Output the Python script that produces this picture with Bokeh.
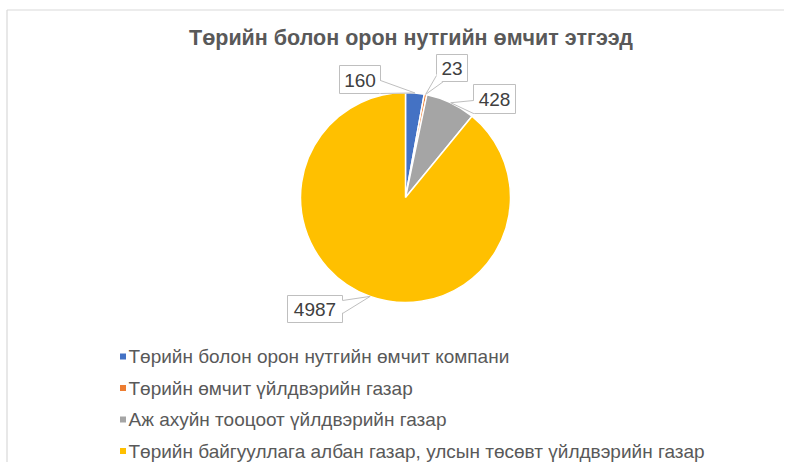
import numpy as np
from bokeh.plotting import figure
from bokeh.models import Range1d
from bokeh.embed import file_html
from bokeh.resources import INLINE
from bokeh.core.properties import value

# ---------------- data ----------------
title = "Төрийн болон орон нутгийн өмчит этгээд"
categories = [
    "Төрийн болон орон нутгийн өмчит компани",
    "Төрийн өмчит үйлдвэрийн газар",
    "Аж ахуйн тооцоот үйлдвэрийн газар",
    "Төрийн байгууллага албан газар, улсын төсөвт үйлдвэрийн газар",
]
values = [160, 23, 428, 4987]
colors = ["#4472C4", "#ED7D31", "#A5A5A5", "#FFC000"]

# ---------------- layout (picture pixel coordinates) ----------------
W, H = 784, 462
def X(px):
    return px
def Y(py):
    return H - py

CX, CY, R = 405, 197, 105
FONT = value("Liberation Sans")

p = figure(width=W, height=H, x_range=Range1d(0, W), y_range=Range1d(0, H),
           output_backend="svg", toolbar_location=None,
           x_axis_location=None, y_axis_location=None,
           min_border=0, outline_line_color=None)
p.grid.visible = False
p.background_fill_color = "white"
p.border_fill_color = "white"

# chart area border (left and top only visible)
p.segment(x0=[X(6.5), X(6.5)], y0=[Y(9.5), Y(9.5)], x1=[X(792), X(6.5)], y1=[Y(9.5), Y(470)],
          line_color="#d9d9d9", line_width=1.2)

# title
p.text(x=[X(410.5)], y=[Y(37)], text=[title], text_font=FONT, text_font_size="21.5px",
       text_font_style="bold", text_color="#595959", text_align="center", text_baseline="middle")

# pie
vals = np.array(values, dtype=float)
total = vals.sum()
cum = np.concatenate([[0], np.cumsum(vals)])
start = np.pi / 2 - 2 * np.pi * cum[:-1] / total
end = np.pi / 2 - 2 * np.pi * cum[1:] / total
p.wedge(x=X(CX), y=Y(CY), radius=R, start_angle=start, end_angle=end, direction="clock",
        fill_color=colors, line_color="white", line_width=1.5)

# data label callouts: box (left, top, width, height) and pointer base points
mid = (start + end) / 2
tips_x = X(CX) + R * np.cos(mid)
tips_y = Y(CY) + R * np.sin(mid)
boxes = [(339, 65, 41, 28), (436, 54, 31, 27), (473, 84, 42, 29), (287, 295, 55, 27)]
bases = [((380, 80), (380, 93)), ((436, 75), (443, 81)), ((473, 100), (473, 113)), ((342, 300), (342, 313))]
for i, ((bl, bt, bw, bh), (b1, b2)) in enumerate(zip(boxes, bases)):
    p.rect(x=X(bl + bw / 2), y=Y(bt + bh / 2), width=bw, height=bh,
           fill_color="white", line_color="#bfbfbf", line_width=1)
    # pointer (white fill hides the box edge under its base)
    dx = 1.2 if b1[0] == b2[0] else 0
    dy = 0 if b1[0] == b2[0] else 1.2
    sgnx = -1 if b1[0] == bl + bw else 1
    p.patch(x=[X(b1[0]) + dx * sgnx, X(b2[0]) + dx * sgnx, tips_x[i]],
            y=[Y(b1[1]) + dy, Y(b2[1]) + dy, tips_y[i]],
            fill_color="white", line_color=None)
    p.segment(x0=[X(b1[0]), X(b2[0])], y0=[Y(b1[1]), Y(b2[1])],
              x1=[tips_x[i], tips_x[i]], y1=[tips_y[i], tips_y[i]],
              line_color="#bfbfbf", line_width=1)
    p.text(x=[X(bl + bw / 2)], y=[Y(bt + bh / 2 + 0.5)], text=[str(values[i])], text_font=FONT,
           text_font_size="19px", text_color="#404040", text_align="center", text_baseline="middle")

# legend
rows = [356, 387.5, 419, 450.5]
p.rect(x=[X(122.5)] * 4, y=[Y(r) for r in rows], width=6, height=6, fill_color=colors, line_color=None)
p.text(x=[X(128)] * 4, y=[Y(r) for r in rows], text=categories, text_font=FONT, text_font_size="19px",
       text_color="#595959", text_align="left", text_baseline="middle")

open("out.html", "w").write(file_html(p, INLINE))
